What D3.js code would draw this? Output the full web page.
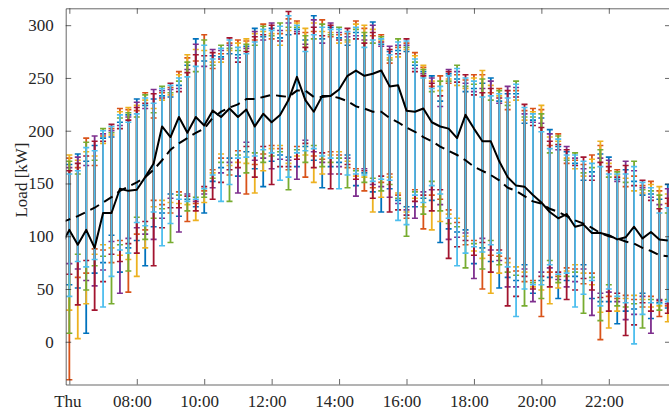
<!DOCTYPE html>
<html><head><meta charset="utf-8">
<script src="https://cdn.jsdelivr.net/npm/d3@7"></script>
<style>body{margin:0;background:#fff;overflow:hidden}</style>
</head><body><svg id="c" width="669" height="414"></svg>
<script>
// 15-minute steps on Thursday
const times = ["06:00","06:15","06:30","06:45","07:00","07:15","07:30","07:45","08:00","08:15","08:30","08:45",
"09:00","09:15","09:30","09:45","10:00","10:15","10:30","10:45","11:00","11:15","11:30","11:45",
"12:00","12:15","12:30","12:45","13:00","13:15","13:30","13:45","14:00","14:15","14:30","14:45",
"15:00","15:15","15:30","15:45","16:00","16:15","16:30","16:45","17:00","17:15","17:30","17:45",
"18:00","18:15","18:30","18:45","19:00","19:15","19:30","19:45","20:00","20:15","20:30","20:45",
"21:00","21:15","21:30","21:45","22:00","22:15","22:30","22:45","23:00","23:15","23:30","23:45"];
const lineTimes = ["05:45"].concat(times);
const tickTimes = ["06:00","08:00","10:00","12:00","14:00","16:00","18:00","20:00","22:00"];
const tickLabels = ["Thu","08:00","10:00","12:00","14:00","16:00","18:00","20:00","22:00"];
const yTicks = [0,50,100,150,200,250,300];
const seriesColors = ["#0072BD","#D95319","#EDB120","#7E2F8E","#77AC30","#A2142F","#4DBEEE"];

// upper ends of the error bars, one row per time step, one column per series
const capsHigh = [
[168,174,177,165,171,162,159],[178,165,172,175,159,169,162],[171,193,180,167,189,176,184],[186,167,176,195,172,190,181],
[193,195,188,197,202,190,200],[194,202,196,200,198,206,204],[208,221,218,205,212,202,215],[215,220,222,213,217,210,208],
[230,219,224,227,213,222,216],[224,236,229,221,234,226,231],[230,212,221,239,217,235,226],[233,236,229,238,242,231,240],
[232,241,234,239,236,245,243],[243,256,253,240,247,237,250],[262,269,272,258,265,255,251],[287,266,277,282,256,272,261],
[266,291,276,261,286,271,281],[271,259,265,277,262,274,268],[270,273,265,276,281,268,278],[273,283,276,281,278,288,286],
[272,286,283,269,276,265,279],[280,285,287,278,282,275,273],[297,286,292,294,281,289,284],[289,301,294,286,299,291,296],
[297,287,292,302,290,300,295],[288,292,281,295,302,285,299],[291,306,295,302,298,313,309],[296,304,302,294,298,292,300],
[286,293,297,282,290,279,275],[309,294,302,305,287,298,291],[287,305,294,283,301,290,298],[298,289,293,302,291,300,296],
[288,291,283,293,298,286,296],[281,292,284,289,286,297,294],[293,304,301,290,296,287,298],[290,297,300,286,293,283,279],
[303,290,296,300,283,293,286],[282,291,286,280,289,284,287],[275,264,269,280,267,277,272],[276,279,270,281,287,273,284],
[275,283,277,281,279,287,285],[262,274,271,259,265,256,268],[256,260,262,254,258,252,250],[252,242,247,250,237,245,240],
[228,252,238,223,247,233,242],[254,245,249,258,247,256,252],[249,253,243,256,262,246,259],[237,248,240,245,242,253,250],
[240,253,250,237,244,234,247],[245,253,257,240,249,236,232],[250,236,243,247,229,240,233],[228,240,233,226,238,231,235],
[235,220,227,242,224,238,231],[235,238,229,241,247,232,244],[207,219,210,216,213,225,222],[210,221,218,208,213,205,216],
[212,220,224,207,216,203,199],[201,186,194,197,179,190,183],[185,197,190,182,195,187,192],[180,169,174,185,172,182,177],
[169,172,164,174,179,167,177],[153,168,157,164,160,175,171],[161,177,173,157,165,153,169],[178,186,190,174,182,170,166],
[175,162,169,172,156,166,159],[154,163,158,152,161,156,159],[163,147,155,171,151,167,159],[152,157,143,162,171,148,166],
[139,148,141,146,144,153,151],[140,152,149,137,143,134,146],[135,143,147,130,139,126,122],[149,131,140,145,122,136,127]];

// lower ends of the error bars
const capsLow = [
[54,-36,30,74,8,64,43],[51,61,3,69,83,35,76],[8,65,36,58,49,77,71],[65,88,83,53,72,30,78],
[75,87,92,68,81,57,33],[101,75,89,95,36,83,62],[66,96,82,46,92,76,87],[89,47,78,98,67,93,84],
[96,102,62,108,118,84,113],[72,106,89,102,97,114,110],[109,134,128,97,117,72,123],[122,130,134,117,126,108,91],
[140,122,132,136,94,127,112],[119,142,131,104,139,127,135],[135,114,130,140,124,138,133],[128,131,115,133,137,124,135],
[122,143,132,140,137,147,145],[152,163,160,146,155,135,158],[165,174,178,160,170,151,133],[174,158,167,170,133,163,149],
[157,181,170,141,177,165,174],[180,140,169,189,160,185,175],[164,168,141,172,179,156,176],[147,178,162,174,170,185,182],
[171,186,183,164,176,149,179],[177,183,186,173,180,166,153],[175,163,169,172,144,166,156],[166,185,176,154,182,173,179],
[185,156,177,191,170,188,181],[172,176,151,180,186,165,183],[146,173,159,170,166,179,176],[166,180,177,159,170,145,174],
[170,177,180,166,174,159,145],[177,165,171,174,146,168,158],[148,164,157,138,162,154,159],[160,143,156,164,151,162,158],
[142,146,123,149,155,136,152],[123,151,137,147,143,157,154],[145,159,156,137,149,123,153],[134,139,141,131,136,125,115],
[128,117,123,125,100,120,111],[128,144,136,117,142,133,139],[136,107,128,142,121,139,132],[134,139,106,144,152,124,148],
[94,135,114,130,124,144,140],[107,125,121,97,112,79,117],[104,113,117,99,109,90,72],[106,92,100,103,70,96,84],
[74,96,86,60,93,82,90],[89,50,79,98,69,94,85],[76,82,46,87,96,66,92],[51,81,65,77,73,87,84],
[61,79,75,52,66,34,71],[58,67,71,52,63,43,24],[73,57,66,69,34,62,50],[46,58,52,38,56,50,54],
[58,24,49,66,41,62,54],[61,66,36,70,77,52,73],[41,62,51,59,56,66,64],[58,70,67,52,62,40,65],
[62,69,73,57,66,49,33],[73,55,65,69,27,60,45],[41,65,54,25,61,49,58],[38,2,28,46,20,42,34],
[38,43,13,47,54,29,50],[17,41,29,38,34,46,43],[29,44,41,21,33,6,37],[31,40,44,26,36,16,-2],
[46,33,40,43,13,37,26],[22,43,33,8,40,29,37],[37,24,34,40,30,39,36],[32,34,19,36,40,27,38]];

// solid black line (from 05:45)
const measured = [91,106,92,106,89,122,122,145,143,144,156,169,204,194,213,198,213,205,219,213,221,213,220,204,216,208,215,229,251,229,218,233,233,239,252,257,252,254,257,242,243,219,218,221,208,204,202,193,215,202,190,190,171,156,148,147,139,132,123,117,121,109,111,103,103,101,97,99,109,98,104,97,96];
// dashed black line (from 05:45)
const forecast = [113,116,119,123,127,132,137,143,147,151,156,163,172,182,188,193,198,202,212,218,222,225,230,230,232,234,233,232,238,238,232,232,233,231,228,223,221,218,218,212,208,203,199,194,190,185,181,177,172,166,162,158,153,146,143,138,133,131,126,123,119,115,112,108,103,100,98,95,93,89,86,82,81];

const L = 65.7, R = 670.5, T = 8.3, B = 384.5;
const parse = s => { const [h, m] = s.split(":").map(Number); return new Date(2021, 0, 7, h, m); };
const x = d3.scaleTime().domain([new Date(2021,0,7,5,53,30), new Date(2021,0,7,23,49,48)]).range([L, R]);
const y = d3.scaleLinear().domain([-40.5, 316]).range([B, T]);

const svg = d3.select("#c");
svg.append("defs").append("clipPath").attr("id","clip")
  .append("rect").attr("x",L).attr("y",T).attr("width",R-L).attr("height",B-T);

const plot = svg.append("g").attr("clip-path","url(#clip)");
const capHalf = 3;
seriesColors.forEach((col, s) => {
  const g = plot.append("g").attr("stroke", col).attr("fill","none");
  const pts = times.map((t, i) => ({x: x(parse(t)), lo: y(capsLow[i][s]), hi: y(capsHigh[i][s])}));
  g.selectAll("line.v").data(pts).join("line").attr("class","v").attr("stroke-width", 1.8)
    .attr("x1", d => d.x).attr("x2", d => d.x).attr("y1", d => d.lo).attr("y2", d => d.hi);
  g.selectAll("line.ct").data(pts).join("line").attr("class","ct").attr("stroke-width", 1.6)
    .attr("x1", d => d.x - capHalf).attr("x2", d => d.x + capHalf).attr("y1", d => d.hi).attr("y2", d => d.hi);
  g.selectAll("line.cb").data(pts).join("line").attr("class","cb").attr("stroke-width", 1.6)
    .attr("x1", d => d.x - capHalf).attr("x2", d => d.x + capHalf).attr("y1", d => d.lo).attr("y2", d => d.lo);
});

const line = d3.line().x((d, i) => x(parse(lineTimes[i]))).y(d => y(d));
plot.append("path").datum(forecast).attr("d", line).attr("fill","none")
  .attr("stroke","#000").attr("stroke-width",2).attr("stroke-dasharray","10,6");
plot.append("path").datum(measured).attr("d", line).attr("fill","none")
  .attr("stroke","#000").attr("stroke-width",2).attr("stroke-linejoin","round");

const font = "'Liberation Serif','Times New Roman',serif";
const fs = "17px";
const tickDates = tickTimes.map(parse);
function style(g){
  g.select(".domain").attr("stroke","#262626").attr("stroke-width",0.7);
  g.selectAll(".tick line").attr("stroke","#262626").attr("stroke-width",0.7);
  g.selectAll("text").attr("fill","#262626").style("font-family",font).style("font-size",fs);
}
const xb = svg.append("g").attr("transform",`translate(0,${B})`)
  .call(d3.axisBottom(x).tickValues(tickDates).tickFormat((d,i)=>tickLabels[i]).tickSize(-5.5).tickSizeOuter(0).tickPadding(10));
style(xb);
xb.selectAll("text").attr("dx", (d,i) => i === 0 ? -2 : -5);
const xt = svg.append("g").attr("transform",`translate(0,${T})`)
  .call(d3.axisTop(x).tickValues(tickDates).tickFormat("").tickSize(-5.5).tickSizeOuter(0));
style(xt);
const yl = svg.append("g").attr("transform",`translate(${L},0)`)
  .call(d3.axisLeft(y).tickValues(yTicks).tickSize(-5.5).tickSizeOuter(0).tickPadding(12));
style(yl);
const yr = svg.append("g").attr("transform",`translate(${R},0)`)
  .call(d3.axisRight(y).tickValues(yTicks).tickFormat("").tickSize(-5.5).tickSizeOuter(0));
style(yr);

svg.append("text").attr("transform",`translate(27,180) rotate(-90)`).attr("text-anchor","middle")
  .attr("fill","#262626").style("font-family",font).style("font-size",fs).text("Load [kW]");
</script></body></html>
